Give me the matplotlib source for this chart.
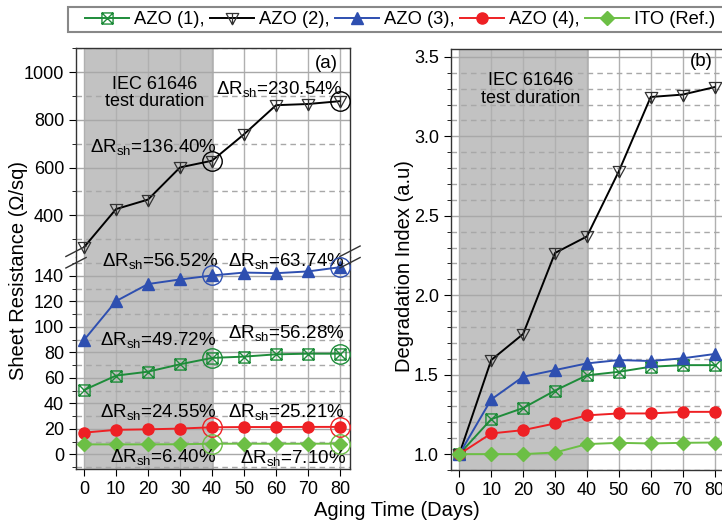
import matplotlib
matplotlib.use("Agg")
import matplotlib.pyplot as plt
from matplotlib.path import Path
from matplotlib.lines import Line2D
from matplotlib.patches import Rectangle
from matplotlib.ticker import MultipleLocator, FormatStrFormatter

plt.rcParams['font.family'] = ['Liberation Sans', 'DejaVu Sans']
plt.rcParams['mathtext.fontset'] = 'custom'
plt.rcParams['mathtext.rm'] = 'Liberation Sans'
plt.rcParams['mathtext.it'] = 'Liberation Sans:italic'

# ---------------- data ----------------
days = [0, 10, 20, 30, 40, 50, 60, 70, 80]
labels = ["AZO (1),", "AZO (2),", "AZO (3),", "AZO (4),", "ITO (Ref.)"]

# sheet resistance (Ohm/sq)
rs_azo1 = [50.4, 61.7, 64.8, 70.6, 75.6, 76.6, 78.4, 78.9, 78.9]
rs_azo2 = [266, 426, 466, 601, 629, 740, 862, 867, 879]
rs_azo3 = [89.6, 120.1, 133.5, 137.1, 140.2, 142.5, 142.0, 143.4, 146.7]
rs_azo4 = [17.0, 19.2, 19.6, 20.2, 21.2, 21.4, 21.4, 21.5, 21.5]
rs_ito = [7.8, 7.8, 7.8, 7.9, 8.3, 8.35, 8.3, 8.35, 8.35]

# degradation index
di_azo1 = [1.0, 1.22, 1.29, 1.40, 1.496, 1.518, 1.55, 1.56, 1.56]
di_azo2 = [1.0, 1.592, 1.756, 2.266, 2.37, 2.78, 3.248, 3.263, 3.31]
di_azo3 = [1.0, 1.344, 1.487, 1.529, 1.571, 1.592, 1.586, 1.603, 1.63]
di_azo4 = [1.0, 1.13, 1.151, 1.193, 1.244, 1.256, 1.256, 1.266, 1.266]
di_ito = [1.0, 1.0, 1.0, 1.01, 1.063, 1.071, 1.067, 1.071, 1.073]

# ΔRsh annotation values for panel (a)
ann_texts = ["230.54%", "136.40%", "56.52%", "63.74%", "49.72%", "56.28%",
             "24.55%", "25.21%", "6.40%", "7.10%"]

colors = ['#1E8C3A', '#000000', '#2E4FB0', '#EE2024', '#6CBF45']

# custom markers
sqx = Path([(-1, -1), (1, -1), (1, 1), (-1, 1), (-1, -1), (-1, -1), (1, 1), (-1, 1), (1, -1)],
           [Path.MOVETO, Path.LINETO, Path.LINETO, Path.LINETO, Path.CLOSEPOLY,
            Path.MOVETO, Path.LINETO, Path.MOVETO, Path.LINETO])
trv = Path([(-1, 0.8), (1, 0.8), (0, -1), (-1, 0.8), (0, 0.8), (0, -1)],
           [Path.MOVETO, Path.LINETO, Path.LINETO, Path.CLOSEPOLY, Path.MOVETO, Path.LINETO])

styles = [
    dict(color=colors[0], marker=sqx, ms=8, mfc='none', mec=colors[0], mew=1.0, lw=1.4),
    dict(color='black', marker=trv, ms=9, mfc='none', mec='#333333', mew=0.9, lw=1.4),
    dict(color=colors[2], marker='^', ms=8, mfc=colors[2], mec=colors[2], lw=1.4),
    dict(color=colors[3], marker='o', ms=8, mfc=colors[3], mec=colors[3], lw=1.4),
    dict(color=colors[4], marker='D', ms=7, mfc=colors[4], mec=colors[4], lw=1.4),
]

W, H = 722, 523
fig = plt.figure(figsize=(W / 100, H / 100), dpi=100)

def fx(px):
    return px / W

def fy(py):
    return 1 - py / H

gridc = '#A8A8A8'
shade = '#C2C2C2'

def style_axes(ax, ymaj, ymin):
    ax.set_axisbelow(True)
    ax.axvspan(0, 40.5, color=shade, zorder=0.2, lw=0)
    ax.xaxis.set_major_locator(MultipleLocator(10))
    ax.yaxis.set_major_locator(MultipleLocator(ymaj))
    ax.yaxis.set_minor_locator(MultipleLocator(ymin))
    ax.grid(True, which='major', axis='x', color='#B0B0B0', lw=1.0, ls='-')
    ax.grid(True, which='major', axis='y', color=gridc, lw=1.0, ls='-')
    ax.grid(True, which='minor', axis='y', color=gridc, lw=1.0, ls=(0, (4, 3)))
    ax.tick_params(axis='both', which='major', direction='out', length=5, labelsize=13,
                   right=False, top=False)
    ax.tick_params(axis='y', which='minor', direction='out', length=3, right=False)
    for s in ax.spines.values():
        s.set_color('#333333')
        s.set_linewidth(1.0)

# ---------------- panel (a): broken axis ----------------
axL, axR = 76, 350
yTop, yBrk, yBot = 48, 257, 469
ax_up = fig.add_axes([fx(axL), fy(yBrk), fx(axR - axL), (yBrk - yTop) / H])
ax_lo = fig.add_axes([fx(axL), fy(yBot), fx(axR - axL), (yBot - yBrk) / H])

rs_all = [rs_azo1, rs_azo2, rs_azo3, rs_azo4, rs_ito]
for ax in (ax_up, ax_lo):
    for data, st in zip(rs_all, styles):
        ax.plot(days, data, zorder=3, **st)
        ax.plot([days[4], days[8]], [data[4], data[8]], ls='none', marker='o', ms=14,
                mfc='none', mec=st['color'], mew=1.0, zorder=4)
    ax.set_xlim(-2.5, 83.1)

style_axes(ax_up, 200, 100)
style_axes(ax_lo, 20, 10)
ax_up.set_ylim(225, 1102)
ax_lo.set_ylim(-11.5, 154.7)
ax_up.spines['bottom'].set_visible(False)
ax_lo.spines['top'].set_visible(False)
ax_up.tick_params(axis='x', which='both', bottom=False, labelbottom=False)

# break marks
for xp in (axL, axR):
    for dy in (-0.011, 0.011):
        fig.add_artist(Line2D([fx(xp) - 0.014, fx(xp) + 0.014],
                              [fy(yBrk) + dy - 0.010, fy(yBrk) + dy + 0.010],
                              color='#333333', lw=1.0))

# annotations panel (a)
def dR(v):
    return 'ΔR$_{\\mathregular{sh}}$=' + v

fs_ann = 13.5
ax_up.text(22, 913, 'IEC 61646\ntest duration', ha='center', va='center', fontsize=13,
           linespacing=1.05)
ax_up.text(75.8, 1038, '(a)', ha='center', va='center', fontsize=13.5)
ax_up.text(61, 932, dR(ann_texts[0]), ha='center', va='center', fontsize=fs_ann)
ax_up.text(21.6, 688, dR(ann_texts[1]), ha='center', va='center', fontsize=fs_ann)
ax_lo.text(23.7, 151.5, dR(ann_texts[2]), ha='center', va='center', fontsize=fs_ann)
ax_lo.text(63.3, 151.5, dR(ann_texts[3]), ha='center', va='center', fontsize=fs_ann)
ax_lo.text(23.2, 89.6, dR(ann_texts[4]), ha='center', va='center', fontsize=fs_ann)
ax_lo.text(63.3, 94.8, dR(ann_texts[5]), ha='center', va='center', fontsize=fs_ann)
ax_lo.text(23.2, 33.4, dR(ann_texts[6]), ha='center', va='center', fontsize=fs_ann)
ax_lo.text(63.3, 33.4, dR(ann_texts[7]), ha='center', va='center', fontsize=fs_ann)
ax_lo.text(24.7, -1.9, dR(ann_texts[8]), ha='center', va='center', fontsize=fs_ann)
ax_lo.text(65.4, -2.8, dR(ann_texts[9]), ha='center', va='center', fontsize=fs_ann)

# ---------------- panel (b) ----------------
bL, bTop, bBot = 450.7, 49, 470
per10 = 31.9
xmin, xmax = -2.7, 83.5
bwidth = (xmax - xmin) * per10 / 10
ax_b = fig.add_axes([fx(bL), fy(bBot), bwidth / W, (bBot - bTop) / H])
di_all = [di_azo1, di_azo2, di_azo3, di_azo4, di_ito]
for data, st in zip(di_all, styles):
    ax_b.plot(days, data, zorder=3, **st)
ax_b.set_xlim(xmin, xmax)
ax_b.set_ylim(0.9, 3.55)
style_axes(ax_b, 0.5, 0.1)
ax_b.yaxis.set_major_formatter(FormatStrFormatter('%.1f'))
ax_b.text(22.2, 3.294, 'IEC 61646\ntest duration', ha='center', va='center', fontsize=13,
          linespacing=1.05)
ax_b.text(76, 3.472, '(b)', ha='center', va='center', fontsize=13.5)

# ---------------- labels ----------------
fig.text(fx(19), fy(270), 'Sheet Resistance (Ω/sq)', rotation=90, ha='center', va='center',
         fontsize=14.5)
fig.text(fx(405), fy(266), 'Degradation Index (a.u)', rotation=90, ha='center', va='center',
         fontsize=14.5)
fig.text(fx(397), fy(511), 'Aging Time (Days)', ha='center', va='center', fontsize=14.5)

# ---------------- legend ----------------
fig.add_artist(Rectangle((fx(68), fy(32.3)), fx(740 - 68), (32.3 - 7.3) / H,
                         transform=fig.transFigure, facecolor='white', edgecolor='#888888',
                         lw=1.5, zorder=5))
handles = [Line2D([], [], **st) for st in styles]
leg = fig.legend(handles, labels, loc='center left', bbox_to_anchor=(fx(85), fy(20)), ncol=5,
                 frameon=False, handlelength=2.4, handletextpad=0.27, columnspacing=0.3,
                 borderpad=0, borderaxespad=0, fontsize=13.2)
leg.set_zorder(6)

fig.savefig('out.png', dpi=100)
